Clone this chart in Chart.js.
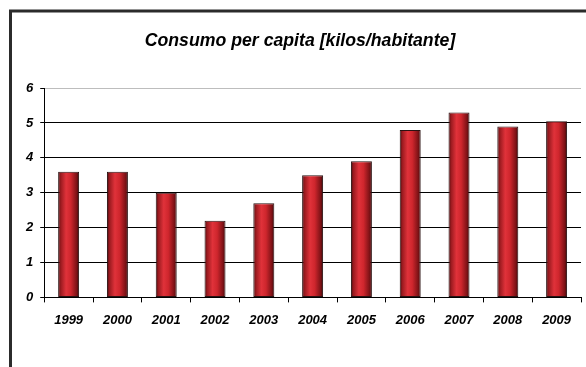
<!DOCTYPE html>
<html>
<head>
<meta charset="utf-8">
<script src="https://cdn.jsdelivr.net/npm/chart.js@4.4.1/dist/chart.umd.min.js"></script>
<style>
  html, body { margin: 0; padding: 0; background: #fff; }
  #wrap { width: 586px; height: 367px; }
</style>
</head>
<body>
<div id="wrap"><canvas id="consumoChart" width="586" height="367"></canvas></div>
<script>
const years = ['1999', '2000', '2001', '2002', '2003', '2004', '2005', '2006', '2007', '2008', '2009'];
const consumo = [3.6, 3.6, 3.0, 2.2, 2.7, 3.5, 3.9, 4.8, 5.3, 4.9, 5.05];
const yTicks = [0, 1, 2, 3, 4, 5, 6];

const labelFont = { family: 'Liberation Sans, Arial, sans-serif', size: 13, weight: 'bold', style: 'italic' };

// white background plus the dark frame along the left and top edges
const framePlugin = {
  id: 'frame',
  beforeDraw(chart) {
    const c = chart.ctx;
    c.save();
    c.fillStyle = '#fff';
    c.fillRect(0, 0, chart.width, chart.height);
    c.strokeStyle = '#2b2b2b';
    c.lineWidth = 3;
    c.beginPath();
    c.moveTo(10.5, chart.height + 5);
    c.lineTo(10.5, 11);
    c.lineTo(chart.width + 5, 11);
    c.stroke();
    c.restore();
  }
};

// cylinder-like shading for each bar, dark at the sides and bright red near the middle
const shadePlugin = {
  id: 'shade',
  beforeDatasetDraw(chart, args) {
    const c = chart.ctx;
    args.meta.data.forEach(bar => {
      const left = bar.x - bar.width / 2;
      const right = bar.x + bar.width / 2;
      const g = c.createLinearGradient(left, 0, right, 0);
      g.addColorStop(0, '#4a0a0c');
      g.addColorStop(0.12, '#9a1a1f');
      g.addColorStop(0.38, '#e0323a');
      g.addColorStop(0.6, '#cf262d');
      g.addColorStop(0.88, '#7e1216');
      g.addColorStop(1, '#3e0709');
      bar.options.backgroundColor = g;
    });
  }
};

new Chart(document.getElementById('consumoChart'), {
  type: 'bar',
  data: {
    labels: years,
    datasets: [{
      data: consumo,
      // scriptable so every bar gets its own options object
      backgroundColor: () => '#c8242b',
      borderColor: '#2a1212',
      borderWidth: 1,
      borderSkipped: false,
      categoryPercentage: 1,
      barPercentage: 0.43
    }]
  },
  options: {
    responsive: false,
    animation: false,
    layout: { padding: { left: 19, right: 5, top: 0, bottom: 29 } },
    plugins: {
      legend: { display: false },
      tooltip: { enabled: false },
      title: {
        display: true,
        text: 'Consumo per capita [kilos/habitante]',
        color: '#000',
        font: { family: 'Liberation Sans, Arial, sans-serif', size: 17.7, weight: 'bold', style: 'italic' },
        padding: { top: 30, bottom: 36.8 }
      }
    },
    scales: {
      x: {
        offset: true,
        grid: {
          offset: true,
          drawOnChartArea: false,
          drawTicks: true,
          tickLength: 5,
          tickColor: '#000'
        },
        border: { color: '#000', width: 1 },
        ticks: { color: '#000', font: labelFont, padding: 10, maxRotation: 0 }
      },
      y: {
        min: 0,
        max: 6,
        afterBuildTicks(scale) {
          scale.ticks = yTicks.map(v => ({ value: v }));
        },
        grid: {
          color: ctx => (ctx.tick && ctx.tick.value === 6 ? '#bdbdbd' : '#000'),
          tickColor: '#000',
          tickLength: 4,
          lineWidth: 1
        },
        border: { color: '#000', width: 1 },
        ticks: { color: '#000', font: labelFont, padding: 7 }
      }
    }
  },
  plugins: [framePlugin, shadePlugin]
});
</script>
</body>
</html>
